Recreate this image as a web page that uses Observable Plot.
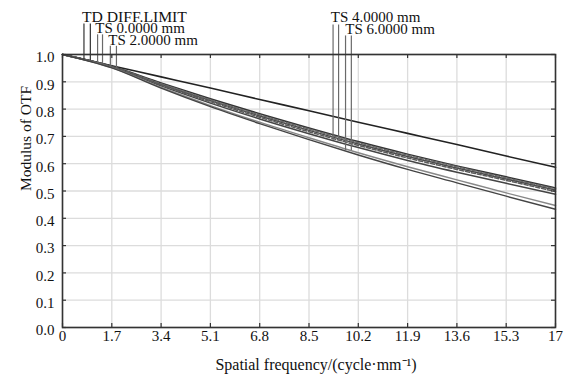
<!DOCTYPE html>
<html>
<head>
<meta charset="utf-8">
<script src="https://cdn.jsdelivr.net/npm/d3@7"></script>
<script src="https://cdn.jsdelivr.net/npm/@observablehq/plot@0.6"></script>
<style>
  html, body { margin: 0; padding: 0; background: #fff; }
</style>
</head>
<body>
<div id="chart"></div>
<script>
// ---- data ----
const freq = [0, 1.7, 3.4, 5.1, 6.8, 8.5, 10.2, 11.9, 13.6, 15.3, 17];
const xTicks = [0, 1.7, 3.4, 5.1, 6.8, 8.5, 10.2, 11.9, 13.6, 15.3, 17];
const xTickLabels = ["0", "1.7", "3.4", "5.1", "6.8", "8.5", "10.2", "11.9", "13.6", "15.3", "17"];
const yTicks = [0, 0.1, 0.2, 0.3, 0.4, 0.5, 0.6, 0.7, 0.8, 0.9, 1.0];

const diffLimit = [1, 0.959, 0.918, 0.877, 0.835, 0.794, 0.752, 0.711, 0.670, 0.628, 0.587];
const ts0T = [1, 0.957, 0.896, 0.838, 0.783, 0.731, 0.681, 0.635, 0.592, 0.552, 0.511];
const ts0S = [1, 0.957, 0.896, 0.838, 0.783, 0.731, 0.681, 0.635, 0.592, 0.552, 0.511];
const ts2T = [1, 0.956, 0.891, 0.831, 0.775, 0.722, 0.672, 0.626, 0.584, 0.544, 0.504];
const ts2S = [1, 0.956, 0.893, 0.834, 0.779, 0.727, 0.677, 0.631, 0.589, 0.548, 0.508];
const ts4T = [1, 0.954, 0.885, 0.822, 0.764, 0.710, 0.659, 0.612, 0.569, 0.528, 0.488];
const ts4S = [1, 0.955, 0.888, 0.827, 0.770, 0.717, 0.667, 0.621, 0.579, 0.539, 0.498];
const ts6T = [1, 0.951, 0.877, 0.809, 0.747, 0.688, 0.632, 0.579, 0.530, 0.481, 0.433];
const ts6S = [1, 0.952, 0.880, 0.813, 0.752, 0.695, 0.640, 0.589, 0.541, 0.493, 0.447];

const legendLabels = ["TD DIFF.LIMIT", "TS 0.0000 mm", "TS 2.0000 mm", "TS 4.0000 mm", "TS 6.0000 mm"];
// frequency at which each legend's T / S marker is drawn
const legendMarkerFreq = [[0.74, 0.96], [1.21, 1.38], [1.65, 1.86], [9.33, 9.52], [9.76, 9.96]];

// ---- build ----
const series = [
  {v: diffLimit, stroke: "#222", w: 1.6, dash: null},
  {v: ts0T, stroke: "#333", w: 1.5, dash: null},
  {v: ts2T, stroke: "#4a4a4a", w: 1.5, dash: null},
  {v: ts2S, stroke: "#666", w: 1.5, dash: "4,2"},
  {v: ts4T, stroke: "#444", w: 1.5, dash: null},
  {v: ts4S, stroke: "#5a5a5a", w: 1.5, dash: "4,2"},
  {v: ts6S, stroke: "#888", w: 1.4, dash: null},
  {v: ts6T, stroke: "#444", w: 1.4, dash: null}
];
const legendSeries = [[diffLimit, diffLimit], [ts0T, ts0S], [ts2T, ts2S], [ts4T, ts4S], [ts6T, ts6S]];
function interp(vals, f) {
  const i = Math.min(freq.length - 2, Math.max(0, d3.bisectRight(freq, f) - 1));
  const t = (f - freq[i]) / (freq[i + 1] - freq[i]);
  return vals[i] + t * (vals[i + 1] - vals[i]);
}
// label placement (data units above the frame)
const labelPos = [[0.67, 1.137], [1.13, 1.095], [1.58, 1.052], [9.25, 1.137], [9.75, 1.094]];
const markerTop = [1.112, 1.072, 1.03, 1.108, 1.068];

const markers = [];
legendMarkerFreq.forEach((fs, k) => {
  fs.forEach((f, j) => {
    markers.push({f, y1: interp(legendSeries[k][j], f), y2: markerTop[k], k});
  });
});
const labels = legendLabels.map((t, k) => ({t, f: labelPos[k][0], y: labelPos[k][1]}));

const W = 566, H = 383, mL = 62, mR = 11, mT = 54, mB = 56;
const innerW = W - mL - mR, innerH = H - mT - mB;
const tick = 4;

const marks = [
  Plot.ruleX(xTicks, {x: d => d, stroke: "#dcdcdc", strokeWidth: 1.3}),
  Plot.ruleY(yTicks, {y: d => d, stroke: "#dcdcdc", strokeWidth: 1.3}),
  ...series.map(s => Plot.line(freq, {
    x: d => d, y: (d, i) => s.v[i], stroke: s.stroke, strokeWidth: s.w,
    strokeDasharray: s.dash, curve: "monotone-x"
  })),
  Plot.ruleX(markers, {x: "f", y1: "y1", y2: "y2", stroke: d => d.k === 0 ? "#333" : "#6a6a6a", strokeWidth: 1.2, clip: false}),
  Plot.text(labels, {x: "f", y: "y", text: "t", textAnchor: "start", fill: "#111", fontSize: 15}),
  // inward ticks
  Plot.ruleX(xTicks, {x: d => d, insetTop: innerH - tick, stroke: "#333", strokeWidth: 1.2}),
  Plot.ruleX(xTicks, {x: d => d, insetBottom: innerH - tick, stroke: "#333", strokeWidth: 1.2}),
  Plot.ruleY(yTicks, {y: d => d, insetRight: innerW - tick, stroke: "#333", strokeWidth: 1.2}),
  Plot.ruleY(yTicks, {y: d => d, insetLeft: innerW - tick, stroke: "#333", strokeWidth: 1.2}),
  Plot.frame({stroke: "#333", strokeWidth: 1.6}),
  Plot.axisX(xTicks, {tickSize: 0, tickPadding: 3, tickFormat: (d, i) => xTickLabels[i], label: null, fontSize: 15, fill: "#111"}),
  Plot.axisY(yTicks, {tickSize: 0, tickPadding: 8, tickFormat: d3.format(".1f"), label: null, fontSize: 15, dy: 3, fill: "#111"}),
  Plot.text(["Modulus of OTF"], {frameAnchor: "left", dx: -36, rotate: -90, fontSize: 15.5, fill: "#111"}),
  Plot.text(["Spatial frequency/(cycle\u00B7mm\u207B\u00B9)"], {frameAnchor: "bottom", dy: 42, dx: 7, fontSize: 16, fill: "#111"})
];

const chart = Plot.plot({
  width: W, height: H,
  marginLeft: mL, marginRight: mR, marginTop: mT, marginBottom: mB,
  style: {fontFamily: "'Liberation Serif', 'Times New Roman', serif", fontSize: "15px", background: "#fff", overflow: "visible"},
  x: {domain: [0, 17]},
  y: {domain: [0, 1]},
  marks
});
// the reference sets the diffraction-limit label condensed
chart.querySelectorAll("text, tspan").forEach(el => {
  if (el.textContent.trim() === legendLabels[0] && el.children.length === 0) {
    el.setAttribute("textLength", "105");
    el.setAttribute("lengthAdjust", "spacingAndGlyphs");
  }
});
document.getElementById("chart").appendChild(chart);
</script>
</body>
</html>
